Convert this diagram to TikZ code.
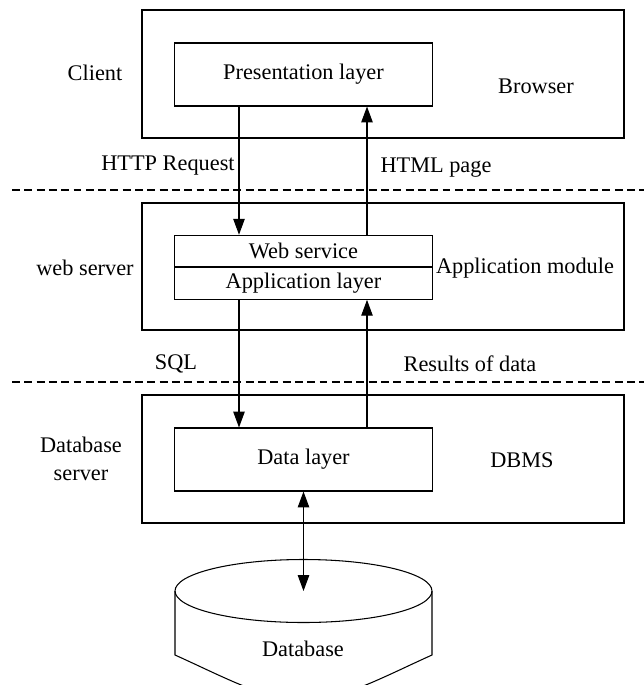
\documentclass[tikz,border=0pt]{standalone}
\usepackage{fontspec}
\setmainfont{Liberation Serif}
\usetikzlibrary{arrows.meta}
\tikzset{
	box/.style={draw, line width=0.6pt, inner sep=0pt},
	arr/.style={line width=0.6pt, -{Triangle[length=9pt,width=6.5pt]}},
	twoarr/.style={line width=0.6pt, {Triangle[length=9pt,width=6.5pt]}-{Triangle[length=9pt,width=6.5pt]}},
	sepline/.style={line width=0.6pt, dash pattern=on 4.5pt off 2.5pt},
}
\begin{document}
	\begin{tikzpicture}[font=\fontsize{12.7}{15}\selectfont]
		\clip (0,0) rectangle (12.88,-13.7);
		
		% cliente
		\node[box, minimum width=9.64cm, minimum height=2.56cm] (client) at (7.66,-1.48) {};
		\node[box, minimum width=5.16cm, minimum height=1.26cm] (pres) at (6.07,-1.49) {Presentation layer};
		\node (lclient) at (1.9,-1.46) {Client};
		\node (lbrowser) at (10.72,-1.72) {Browser};
		
		\node (lreq) at (3.36,-3.32) {HTTP Request};
		\node (lhtml) at (8.72,-3.36) {HTML page};
		\draw[sepline] (0.24,-3.8) -- (12.88,-3.8);
		
		% servidor web
		\node[box, minimum width=9.64cm, minimum height=2.54cm] (websrv) at (7.66,-5.33) {};
		\node[box, minimum width=5.16cm, minimum height=0.63cm] (ws) at (6.07,-5.02) {Web service};
		\node[box, minimum width=5.16cm, minimum height=0.63cm, anchor=north] (app) at (ws.south) {Application layer};
		\node (lweb) at (1.7,-5.36) {web server};
		\node (lmod) at (10.5,-5.36) {Application module};
		
		\node (lsql) at (3.52,-7.28) {SQL};
		\node (lres) at (9.4,-7.28) {Results of data};
		\draw[sepline] (0.24,-7.64) -- (12.88,-7.64);
		
		% servidor de dados
		\node[box, minimum width=9.64cm, minimum height=2.56cm] (dbms) at (7.66,-9.18) {};
		\node[box, minimum width=5.16cm, minimum height=1.26cm] (data) at (6.07,-9.19) {Data layer};
		\node[align=center, font=\fontsize{12.7}{16}\selectfont] (ldbsrv) at (1.62,-9.18) {Database\\server};
		\node (ldbms) at (10.44,-9.2) {DBMS};
		
		% base de dados
		\coordinate (dbtop) at (6.07,-11.82);
		\draw[line width=0.6pt] (dbtop) ellipse (2.57 and 0.63);
		\draw[line width=0.6pt] (3.5,-11.82) -- (3.5,-13.1)
			.. controls (4.5,-13.55) and (5.3,-14.0) .. (6.07,-14.0)
			.. controls (6.84,-14.0) and (7.64,-13.55) .. (8.64,-13.1) -- (8.64,-11.82);
		\node (db) at (6.06,-12.98) {Database};
		
		% setas
		\draw[arr] ([xshift=-1.29cm]pres.south) -- ([xshift=-1.29cm]ws.north);
		\draw[arr] ([xshift=1.27cm]ws.north) -- ([xshift=1.27cm]pres.south);
		\draw[arr] ([xshift=-1.29cm]app.south) -- ([xshift=-1.29cm]data.north);
		\draw[arr] ([xshift=1.27cm]data.north) -- ([xshift=1.27cm]app.south);
		\draw[twoarr] (data.south) -- (dbtop);
	\end{tikzpicture}
\end{document}
